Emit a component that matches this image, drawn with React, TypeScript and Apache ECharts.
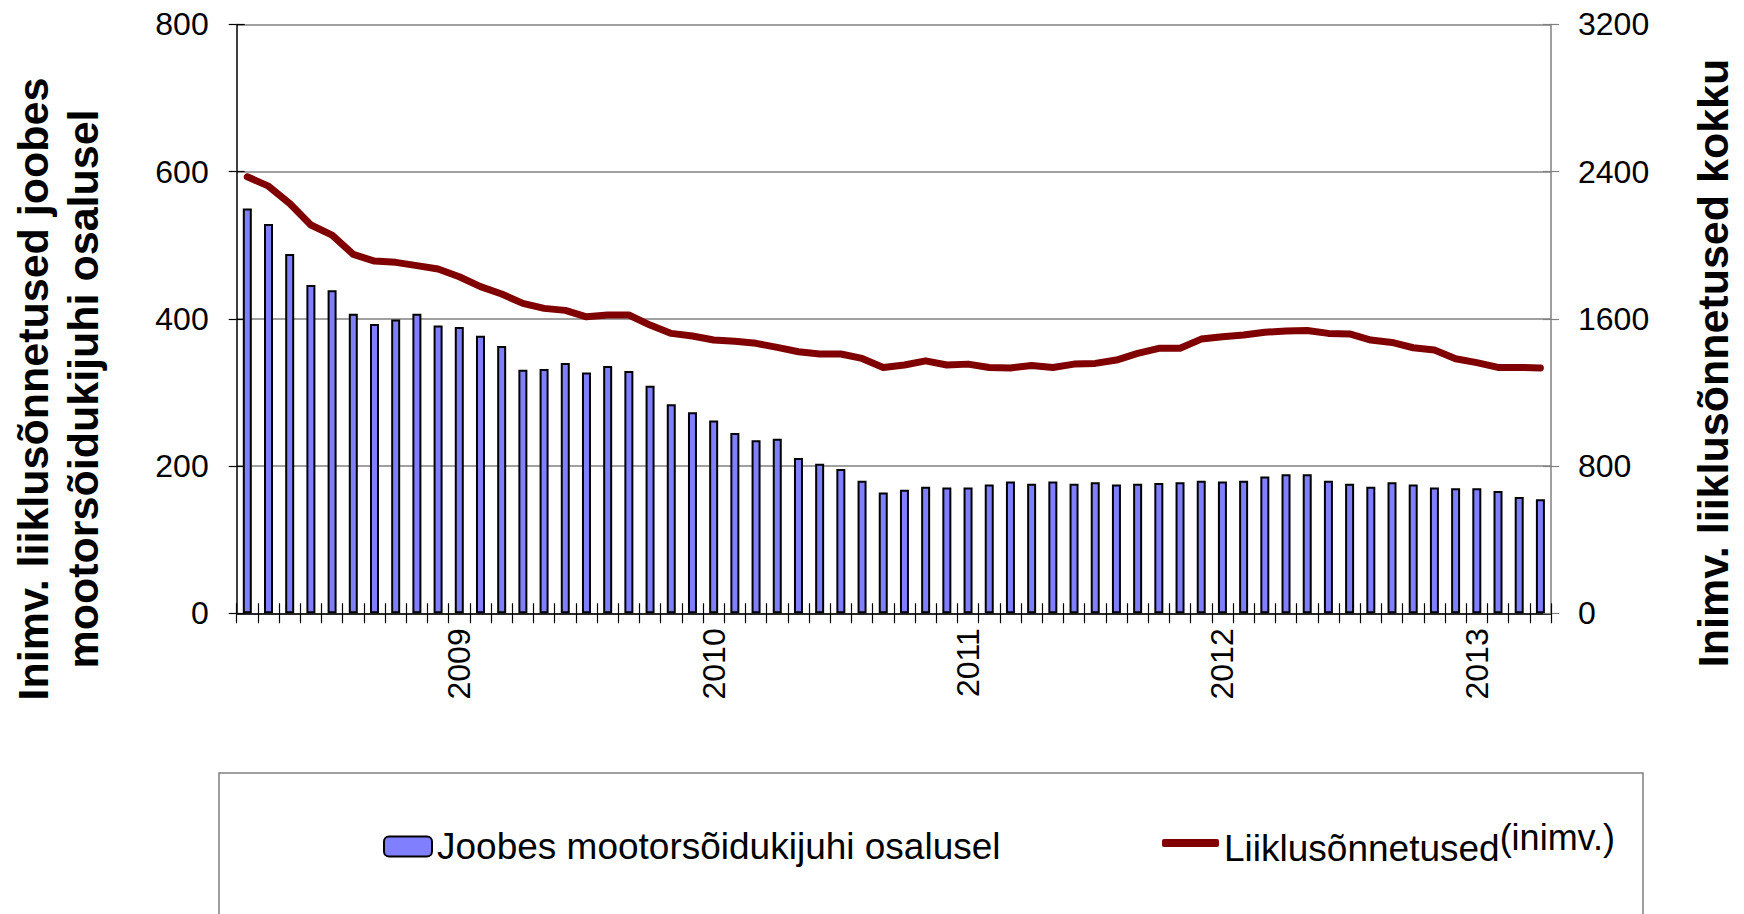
import React, { useEffect, useRef } from "react";
import * as echarts from "echarts";

const months: string[] = [
  "2008-03","2008-04","2008-05","2008-06","2008-07","2008-08","2008-09","2008-10","2008-11","2008-12",
  "2009-01","2009-02","2009-03","2009-04","2009-05","2009-06","2009-07","2009-08","2009-09","2009-10","2009-11","2009-12",
  "2010-01","2010-02","2010-03","2010-04","2010-05","2010-06","2010-07","2010-08","2010-09","2010-10","2010-11","2010-12",
  "2011-01","2011-02","2011-03","2011-04","2011-05","2011-06","2011-07","2011-08","2011-09","2011-10","2011-11","2011-12",
  "2012-01","2012-02","2012-03","2012-04","2012-05","2012-06","2012-07","2012-08","2012-09","2012-10","2012-11","2012-12",
  "2013-01","2013-02","2013-03","2013-04",
];

const drunkDriverAccidents: number[] = [
  550, 529, 488, 446, 439, 407, 393, 399, 407, 391,
  389, 377, 363, 331, 332, 340, 327, 336, 329, 309, 284, 273,
  262, 245, 235, 237, 211, 203, 196, 180, 164, 168, 172, 171,
  171, 175, 179, 176, 179, 176, 178, 175, 176, 177, 178, 180,
  179, 180, 186, 189, 189, 180, 176, 172, 178, 175, 171, 170,
  170, 166, 158, 155,
];

const totalAccidents: number[] = [
  2372, 2321, 2227, 2110, 2055, 1950, 1914, 1907, 1889, 1871,
  1829, 1775, 1735, 1684, 1657, 1646, 1611, 1621, 1621, 1566, 1521, 1507,
  1485, 1478, 1467, 1445, 1421, 1409, 1409, 1385, 1336, 1349, 1372, 1349,
  1354, 1336, 1333, 1347, 1336, 1354, 1358, 1376, 1412, 1440, 1440, 1490,
  1503, 1512, 1527, 1534, 1537, 1521, 1518, 1485, 1472, 1443, 1431, 1383,
  1362, 1336, 1336, 1333,
];

const barName = "Joobes mootorsõidukijuhi osalusel";
const lineName = "Liiklusõnnetused";
const lineNameSuffix = "(inimv.)";
const leftTitle = "Inimv. liiklusõnnetused joobes\nmootorsõidukijuhi osalusel";
const rightTitle = "Inimv. liiklusõnnetused kokku";

const FONT = "'Liberation Sans', Arial, sans-serif";

export default function App() {
  const ref = useRef<HTMLDivElement>(null);
  useEffect(() => {
    if (!ref.current) return;
    const chart = echarts.init(ref.current, null, { renderer: "svg" });
    const tickStyle = { color: "#000", width: 1.2 };
    const plain = (v: number) => String(v);
    chart.setOption({
      animation: false,
      backgroundColor: "#fff",
      textStyle: { fontFamily: FONT },
      grid: { left: 236.7, right: 193, top: 24.4, bottom: 300.7, containLabel: false },
      legend: [
        {
          data: [barName],
          left: 378,
          top: 823,
          itemWidth: 48,
          itemHeight: 20,
          textStyle: { fontSize: 37, color: "#000", fontFamily: FONT },
        },
        {
          data: [{ name: lineName, icon: "roundRect" }],
          left: 1157,
          top: 814,
          itemWidth: 57,
          itemHeight: 8,
          formatter: (n: string) => `{a|${n}}{b|${lineNameSuffix}}`,
          textStyle: {
            color: "#000",
            fontFamily: FONT,
            rich: {
              a: { fontSize: 37, fontFamily: FONT, color: "#000", verticalAlign: "bottom" },
              b: { fontSize: 36, fontFamily: FONT, color: "#000", verticalAlign: "bottom", padding: [0, 0, 12, 0] },
            },
          },
        },
      ],
      graphic: [
        {
          type: "rect",
          shape: { x: 219, y: 773, width: 1424, height: 200 },
          style: { fill: "none", stroke: "#808080", lineWidth: 1.5 },
          silent: true,
        },
        {
          type: "text",
          x: 58,
          y: 389,
          rotation: Math.PI / 2,
          style: {
            text: leftTitle,
            font: `bold 43px ${FONT}`,
            fill: "#000",
            align: "center",
            verticalAlign: "middle",
            lineHeight: 50,
          },
        },
        {
          type: "text",
          x: 1713,
          y: 363,
          rotation: Math.PI / 2,
          style: {
            text: rightTitle,
            font: `bold 43px ${FONT}`,
            fill: "#000",
            align: "center",
            verticalAlign: "middle",
          },
        },
      ],
      xAxis: [
        {
          type: "category",
          data: months,
          boundaryGap: true,
          axisLine: { show: true, lineStyle: { color: "#000", width: 1.5 } },
          axisTick: { show: true, interval: 0, length: 10, lineStyle: tickStyle },
          axisLabel: {
            interval: 0,
            rotate: 90,
            margin: 15,
            fontSize: 32,
            color: "#000",
            fontFamily: FONT,
            formatter: (v: string) => (v.endsWith("-01") ? v.slice(0, 4) : ""),
          },
          splitLine: { show: false },
        },
        {
          type: "category",
          data: months,
          position: "bottom",
          boundaryGap: true,
          axisLine: { show: false },
          axisTick: { show: true, inside: true, interval: 0, length: 10, lineStyle: tickStyle },
          axisLabel: { show: false },
          splitLine: { show: false },
        },
      ],
      yAxis: [
        {
          type: "value",
          min: 0,
          max: 800,
          interval: 200,
          position: "left",
          axisLine: { show: true, lineStyle: { color: "#000", width: 1.5 } },
          axisTick: { show: true, length: 8, lineStyle: tickStyle },
          axisLabel: { fontSize: 32, color: "#000", margin: 28, fontFamily: FONT, formatter: plain },
          splitLine: { show: true, lineStyle: { color: "#808080", width: 1.5 } },
        },
        {
          type: "value",
          min: 0,
          max: 3200,
          interval: 800,
          position: "right",
          axisLine: { show: true, lineStyle: { color: "#808080", width: 1.5 } },
          axisTick: { show: true, length: 8, lineStyle: { color: "#808080", width: 1.2 } },
          axisLabel: { fontSize: 32, color: "#000", margin: 27, fontFamily: FONT, formatter: plain },
          splitLine: { show: false },
        },
        {
          type: "value",
          min: 0,
          max: 800,
          interval: 200,
          position: "left",
          axisLine: { show: false },
          axisTick: { show: true, inside: true, length: 8, lineStyle: tickStyle },
          axisLabel: { show: false },
          splitLine: { show: false },
        },
        {
          type: "value",
          min: 0,
          max: 3200,
          interval: 800,
          position: "right",
          axisLine: { show: false },
          axisTick: { show: true, inside: true, length: 8, lineStyle: { color: "#808080", width: 1.2 } },
          axisLabel: { show: false },
          splitLine: { show: false },
        },
      ],
      series: [
        {
          name: barName,
          type: "bar",
          xAxisIndex: 0,
          yAxisIndex: 0,
          data: drunkDriverAccidents,
          barWidth: 9,
          itemStyle: { color: "#8080FF", borderColor: "#000", borderWidth: 2 },
          z: 2,
        },
        {
          name: lineName,
          type: "line",
          xAxisIndex: 0,
          yAxisIndex: 1,
          data: totalAccidents,
          symbol: "none",
          showSymbol: false,
          lineStyle: { color: "#800000", width: 7, cap: "round", join: "round" },
          itemStyle: { color: "#800000" },
          z: 3,
        },
      ],
    });
    return () => chart.dispose();
  }, []);
  return (
    <div
      ref={ref}
      style={{ position: "fixed", left: 0, top: 0, width: 1744, height: 914 }}
    />
  );
}
